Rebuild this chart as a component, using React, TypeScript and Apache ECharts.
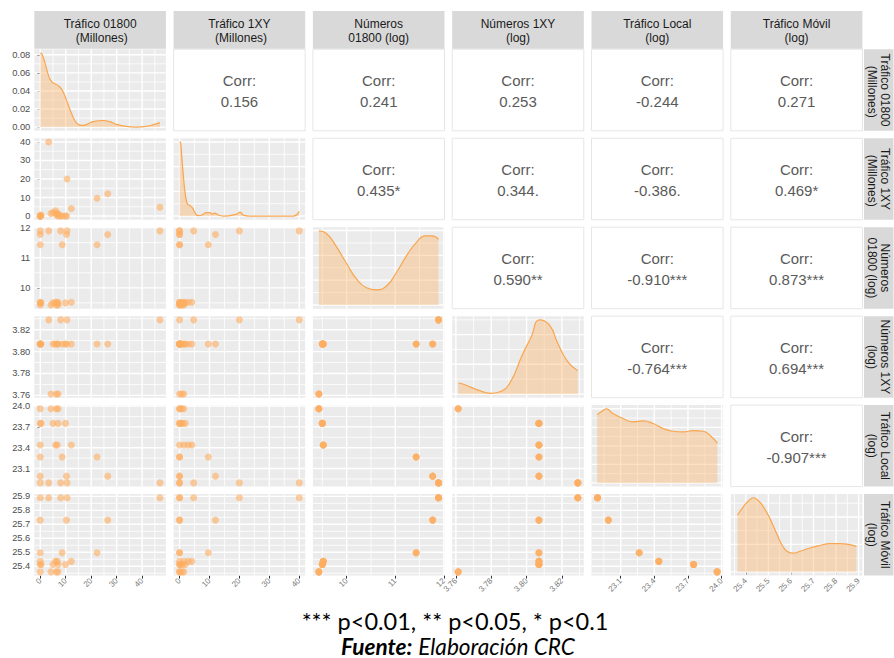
import React, { useEffect, useRef } from "react";
import * as echarts from "echarts";

// ---------- labels ----------
const VAR_LABELS = [
  "Tráfico 01800\n (Millones)",
  "Tráfico 1XY\n (Millones)",
  "Números\n01800 (log)",
  "Números 1XY\n(log)",
  "Tráfico Local\n(log)",
  "Tráfico Móvil\n(log)",
];

// ---------- yearly variables (one value per period) ----------
const YEAR_NUM_01800 = [9.43, 9.5, 9.52, 11.43, 11.77, 11.89];
const YEAR_NUM_1XY = [3.7613, 3.807, 3.807, 3.807, 3.807, 3.829];
const YEAR_TRAF_LOCAL = [23.96, 23.75, 23.44, 23.265, 22.99, 22.893];
const YEAR_TRAF_MOVIL = [25.36, 25.413, 25.435, 25.497, 25.73, 25.89];

// ---------- observations ----------
const OBS_YEAR = [0, 0, 0, 0, 1, 1, 1, 1, 1, 2, 2, 2, 2, 3, 3, 3, 4, 4, 4, 5, 5, 5, 5, 5];
const OBS_TRAF_01800 = [0, 4.2, 6.3, 7.0, 0, 0.3, 5.0, 7.0, 9.9, 0, 6.0, 6.7, 12.2, 0, 8.6, 22.3, 0, 10.3, 26.5, 0, 3.3, 8.0, 10.5, 47.0];
const OBS_TRAF_1XY = [0, 1.4, 0.7, 0, 0, 0.5, 1.9, 1.0, 0, 0, 2.9, 1.5, 4.1, 0, 0, 9.6, 0, 0, 12.0, 0, 40, 0, 20, 4.7];
const OBS_NUM_1XY_MISSING = [0, 19];

// ---------- correlations (upper triangle, row by row) ----------
const CORR_ROW_1 = ["0.156", "0.241", "0.253", "-0.244", "0.271"];
const CORR_ROW_2 = ["0.435*", "0.344.", "-0.386.", "0.469*"];
const CORR_ROW_3 = ["0.590**", "-0.910***", "0.873***"];
const CORR_ROW_4 = ["-0.764***", "0.694***"];
const CORR_ROW_5 = ["-0.907***"];
const CORR_ROWS = [CORR_ROW_1, CORR_ROW_2, CORR_ROW_3, CORR_ROW_4, CORR_ROW_5];

// ---------- density curves (diagonal) ----------
const DENS_X_TRAF_01800 = [0, 0.65, 1.95, 3.25, 4.5, 6.5, 8.4, 10.4, 12.3, 14.3, 16.2, 18.2, 20.8, 24.7, 27.3, 29.9, 33.8, 37.7, 41.6, 44.8, 47.0];
const DENS_Y_TRAF_01800 = [0.082, 0.081, 0.07, 0.057, 0.05, 0.047, 0.042, 0.029, 0.015, 0.0044, 0.0018, 0.003, 0.006, 0.0073, 0.006, 0.003, 0.0007, 0.0, 0.0007, 0.003, 0.005];
const DENS_X_TRAF_1XY = [0, 0.33, 1.0, 1.8, 2.6, 3.5, 4.3, 5.1, 6.2, 7.4, 9.0, 10.1, 11.0, 11.8, 12.9, 14.6, 19.1, 20.2, 21.3, 23.5, 31.3, 38.0, 40.0];
const DENS_Y_TRAF_1XY = [0.3, 0.297, 0.201, 0.099, 0.05, 0.042, 0.033, 0.015, 0.0015, 0.004, 0.014, 0.014, 0.008, 0.012, 0.004, 0.0, 0.008, 0.016, 0.004, 0.0, 0.0, 0.0, 0.019];
const DENS_X_NUM_01800 = [9.43, 9.58, 9.79, 10.0, 10.2, 10.41, 10.62, 10.83, 11.03, 11.24, 11.45, 11.62, 11.76, 11.89];
const DENS_Y_NUM_01800 = [0.597, 0.578, 0.47, 0.334, 0.212, 0.139, 0.122, 0.157, 0.266, 0.402, 0.511, 0.557, 0.557, 0.529];
const DENS_X_NUM_1XY = [3.7613, 3.7647, 3.7723, 3.7799, 3.7856, 3.7913, 3.797, 3.8026, 3.8073, 3.813, 3.8177, 3.8234, 3.829];
const DENS_Y_NUM_1XY = [3.7, 3.2, 1.35, 0.22, 0.9, 4.5, 12.4, 19.2, 25.0, 23.2, 17.0, 10.8, 7.8];
const DENS_X_TRAF_LOCAL = [22.891, 22.927, 22.972, 23.031, 23.121, 23.21, 23.3, 23.39, 23.479, 23.568, 23.658, 23.747, 23.837, 23.912, 23.962];
const DENS_Y_TRAF_LOCAL = [0.923, 0.96, 1.0, 0.937, 0.869, 0.824, 0.837, 0.801, 0.733, 0.697, 0.688, 0.706, 0.697, 0.62, 0.538];
const DENS_X_TRAF_MOVIL = [25.363, 25.389, 25.411, 25.434, 25.456, 25.478, 25.507, 25.537, 25.566, 25.588, 25.61, 25.64, 25.684, 25.728, 25.772, 25.816, 25.86, 25.89];
const DENS_Y_TRAF_MOVIL = [2.07, 2.37, 2.58, 2.7, 2.59, 2.37, 1.94, 1.39, 0.9, 0.72, 0.68, 0.75, 0.87, 0.96, 1.03, 1.03, 0.99, 0.93];

const DENS_X = [DENS_X_TRAF_01800, DENS_X_TRAF_1XY, DENS_X_NUM_01800, DENS_X_NUM_1XY, DENS_X_TRAF_LOCAL, DENS_X_TRAF_MOVIL];
const DENS_Y = [DENS_Y_TRAF_01800, DENS_Y_TRAF_1XY, DENS_Y_NUM_01800, DENS_Y_NUM_1XY, DENS_Y_TRAF_LOCAL, DENS_Y_TRAF_MOVIL];

// ---------- axis breaks ----------
const VAR_MAJOR = [
  [0, 10, 20, 30, 40],
  [0, 10, 20, 30, 40],
  [10, 11, 12],
  [3.76, 3.78, 3.8, 3.82],
  [23.1, 23.4, 23.7, 24.0],
  [25.4, 25.5, 25.6, 25.7, 25.8, 25.9],
];
const VAR_MINOR = [
  [5, 15, 25, 35, 45],
  [5, 15, 25, 35],
  [9.5, 10.5, 11.5],
  [3.77, 3.79, 3.81, 3.83],
  [22.95, 23.25, 23.55, 23.85],
  [25.35, 25.45, 25.55, 25.65, 25.75, 25.85],
];
const VAR_DECIMALS = [0, 0, 0, 2, 1, 1];
const DENS_MAJOR = [[0, 0.02, 0.04, 0.06, 0.08], [0, 0.1, 0.2, 0.3], [0, 0.2, 0.4, 0.6], [0, 10, 20], [0, 0.25, 0.5, 0.75, 1], [0, 1, 2]];
const DENS_MINOR = [[0.01, 0.03, 0.05, 0.07], [0.05, 0.15, 0.25], [0.1, 0.3, 0.5], [5, 15, 25], [0.125, 0.375, 0.625, 0.875], [0.5, 1.5, 2.5]];

// ---------- layout ----------
const COL_X = 34.3;
const COL_STEP = 139.3;
const PANEL_W = 131.6;
const ROW_Y = 49.3;
const ROW_STEP = 88.95;
const PANEL_H = 81.5;
const STRIP_TOP_Y = 11;
const STRIP_TOP_H = 37.8;
const STRIP_RIGHT_X = 864;
const STRIP_RIGHT_W = 29.5;

const ORANGE = "#FDAE61";
const ORANGE_LINE = "#F8A64F";

function varValues(v: number): (number | null)[] {
  return OBS_YEAR.map((y, n) => {
    if (v === 0) return OBS_TRAF_01800[n];
    if (v === 1) return OBS_TRAF_1XY[n];
    if (v === 2) return YEAR_NUM_01800[y];
    if (v === 3) return OBS_NUM_1XY_MISSING.includes(n) ? null : YEAR_NUM_1XY[y];
    if (v === 4) return YEAR_TRAF_LOCAL[y];
    return YEAR_TRAF_MOVIL[y];
  });
}

function expandRange(vals: number[]): [number, number] {
  const lo = Math.min(...vals);
  const hi = Math.max(...vals);
  const pad = (hi - lo) * 0.05;
  return [lo - pad, hi + pad];
}

function buildOption() {
  const VALUES = [0, 1, 2, 3, 4, 5].map(varValues);
  const RANGES = VALUES.map((vs) => expandRange(vs.filter((v) => v !== null) as number[]));
  const DENS_RANGES = DENS_Y.map((ds) => {
    const peak = Math.max(...ds);
    return [-0.05 * peak, 1.05 * peak] as [number, number];
  });

  const grids: any[] = [];
  const xAxes: any[] = [];
  const yAxes: any[] = [];
  const series: any[] = [];
  const graphics: any[] = [];

  const inRange = (v: number, r: [number, number]) => v > r[0] && v < r[1];

  const vLines = (k: number, xs: number[], yRef: number, lw: number) => ({
    type: "custom",
    xAxisIndex: k,
    yAxisIndex: k,
    silent: true,
    z: 5,
    data: xs.map((v) => [v, yRef]),
    encode: { x: 0, y: 1 },
    renderItem: (params: any, api: any) => {
      const p = api.coord([api.value(0), api.value(1)]);
      const cs = params.coordSys;
      return {
        type: "line",
        shape: { x1: p[0], y1: cs.y, x2: p[0], y2: cs.y + cs.height },
        style: { stroke: "#ffffff", lineWidth: lw, opacity: 1 },
      };
    },
  });
  const hLines = (k: number, ys: number[], xRef: number, lw: number) => ({
    type: "custom",
    xAxisIndex: k,
    yAxisIndex: k,
    silent: true,
    z: 5,
    data: ys.map((v) => [xRef, v]),
    encode: { x: 0, y: 1 },
    renderItem: (params: any, api: any) => {
      const p = api.coord([api.value(0), api.value(1)]);
      const cs = params.coordSys;
      return {
        type: "line",
        shape: { x1: cs.x, y1: p[1], x2: cs.x + cs.width, y2: p[1] },
        style: { stroke: "#ffffff", lineWidth: lw, opacity: 1 },
      };
    },
  });

  for (let i = 0; i < 6; i++) {
    for (let j = 0; j < 6; j++) {
      const k = i * 6 + j;
      const left = COL_X + j * COL_STEP;
      const top = ROW_Y + i * ROW_STEP;
      const isCorr = i < j;
      grids.push({
        left,
        top,
        width: PANEL_W,
        height: PANEL_H,
        show: true,
        z: 0,
        backgroundColor: isCorr ? "#ffffff" : "#EBEBEB",
        borderColor: isCorr ? "#E6E6E6" : "transparent",
        borderWidth: isCorr ? 1 : 0,
      });
      const xr: [number, number] = isCorr ? [0, 1] : RANGES[j];
      const yr: [number, number] = isCorr ? [0, 1] : i === j ? DENS_RANGES[j] : RANGES[i];
      const isBottom = i === 5;
      const isLeft = j === 0;
      const xMaj = VAR_MAJOR[j];
      const yMaj = i === 0 && j === 0 ? DENS_MAJOR[0] : VAR_MAJOR[i];
      const yDec = i === 0 && j === 0 ? 2 : VAR_DECIMALS[i];
      xAxes.push({
        type: "value",
        gridIndex: k,
        min: xr[0],
        max: xr[1],
        axisLine: { show: false },
        splitLine: { show: false },
        axisTick: {
          show: isBottom,
          length: 3,
          lineStyle: { color: "#333333", width: 1 },
          customValues: xMaj,
        },
        axisLabel: {
          show: isBottom,
          customValues: xMaj,
          rotate: 45,
          fontSize: 8,
          color: "#7A7A7A",
          margin: 4,
          fontFamily: "Liberation Sans",
          formatter: (v: number) => Number(v).toFixed(VAR_DECIMALS[j]),
        },
      });
      yAxes.push({
        type: "value",
        gridIndex: k,
        min: yr[0],
        max: yr[1],
        axisLine: { show: false },
        splitLine: { show: false },
        axisTick: {
          show: isLeft,
          length: 3,
          lineStyle: { color: "#333333", width: 1 },
          customValues: yMaj,
        },
        axisLabel: {
          show: isLeft,
          customValues: yMaj,
          fontSize: 9.3,
          color: "#4D4D4D",
          margin: 4,
          fontFamily: "Liberation Sans",
          formatter: (v: number) => Number(v).toFixed(yDec),
        },
      });

      if (isCorr) {
        const txt = "Corr:\n" + CORR_ROWS[i][j - i - 1];
        graphics.push({
          type: "text",
          x: left + PANEL_W / 2,
          y: top + PANEL_H / 2 + 1,
          silent: true,
          style: {
            text: txt,
            fill: "#5A5A5A",
            fontSize: 15,
            fontFamily: "Liberation Sans",
            lineHeight: 21.5,
            align: "center",
            verticalAlign: "middle",
          },
        });
        continue;
      }

      // grid lines
      const xMinor = VAR_MINOR[j].filter((v) => inRange(v, xr));
      const xMajor = VAR_MAJOR[j].filter((v) => inRange(v, xr));
      const yMinorList = (i === j ? DENS_MINOR[j] : VAR_MINOR[i]).filter((v) => inRange(v, yr));
      const yMajorList = (i === j ? DENS_MAJOR[j] : VAR_MAJOR[i]).filter((v) => inRange(v, yr));
      const yRef = (yr[0] + yr[1]) / 2;
      const xRef = (xr[0] + xr[1]) / 2;
      series.push(hLines(k, yMinorList, xRef, 0.8));
      series.push(vLines(k, xMinor, yRef, 0.8));
      series.push(hLines(k, yMajorList, xRef, 1.4));
      series.push(vLines(k, xMajor, yRef, 1.4));

      if (i === j) {
        series.push({
          type: "line",
          xAxisIndex: k,
          yAxisIndex: k,
          z: 8,
          silent: true,
          smooth: 0.5,
          showSymbol: false,
          symbol: "none",
          data: DENS_X[j].map((x, n) => [x, DENS_Y[j][n]]),
          lineStyle: { color: ORANGE_LINE, width: 1.2 },
          areaStyle: { color: "rgba(253,174,97,0.55)", origin: "auto" },
        });
      } else {
        const xs = VALUES[j];
        const ys = VALUES[i];
        const pts: number[][] = [];
        xs.forEach((xv, n) => {
          const yv = ys[n];
          if (xv !== null && yv !== null) pts.push([xv, yv]);
        });
        series.push({
          type: "scatter",
          xAxisIndex: k,
          yAxisIndex: k,
          z: 8,
          silent: true,
          symbolSize: 7,
          data: pts,
          itemStyle: { color: ORANGE, opacity: 0.6 },
        });
      }
    }
  }

  // strips
  for (let j = 0; j < 6; j++) {
    const left = COL_X + j * COL_STEP;
    graphics.push({
      type: "rect",
      silent: true,
      shape: { x: left, y: STRIP_TOP_Y, width: PANEL_W, height: STRIP_TOP_H },
      style: { fill: "#D9D9D9" },
    });
    graphics.push({
      type: "text",
      silent: true,
      x: left + PANEL_W / 2,
      y: STRIP_TOP_Y + STRIP_TOP_H / 2 + 1,
      style: {
        text: VAR_LABELS[j],
        fill: "#1A1A1A",
        fontSize: 12,
        fontFamily: "Liberation Sans",
        lineHeight: 13.5,
        align: "center",
        verticalAlign: "middle",
      },
    });
  }
  for (let i = 0; i < 6; i++) {
    const top = ROW_Y + i * ROW_STEP;
    graphics.push({
      type: "rect",
      silent: true,
      shape: { x: STRIP_RIGHT_X, y: top, width: STRIP_RIGHT_W, height: PANEL_H },
      style: { fill: "#D9D9D9" },
    });
    graphics.push({
      type: "text",
      silent: true,
      x: STRIP_RIGHT_X + STRIP_RIGHT_W / 2 - 0.5,
      y: top + PANEL_H / 2,
      rotation: -Math.PI / 2,
      style: {
        text: VAR_LABELS[i],
        fill: "#1A1A1A",
        fontSize: 12,
        fontFamily: "Liberation Sans",
        lineHeight: 13.5,
        align: "center",
        verticalAlign: "middle",
      },
    });
  }

  // caption
  graphics.push({
    type: "text",
    silent: true,
    x: 455,
    y: 621,
    style: {
      text: "*** p<0.01, ** p<0.05, * p<0.1",
      fill: "#000000",
      fontSize: 23.5,
      fontFamily: "Lato",
      align: "center",
      verticalAlign: "middle",
    },
  });
  graphics.push({
    type: "text",
    silent: true,
    x: 458,
    y: 646,
    style: {
      text: "{b|Fuente:} {i|Elaboración CRC}",
      fill: "#000000",
      fontSize: 22.6,
      fontFamily: "Lato",
      align: "center",
      verticalAlign: "middle",
      rich: {
        b: { fontWeight: "bold", fontStyle: "italic", fontSize: 22.6, fontFamily: "Lato", fill: "#000000" },
        i: { fontStyle: "italic", fontSize: 22.6, fontFamily: "Lato", fill: "#000000" },
      },
    },
  });

  return {
    animation: false,
    backgroundColor: "#ffffff",
    grid: grids,
    xAxis: xAxes,
    yAxis: yAxes,
    series,
    graphic: { elements: graphics },
  };
}

export default function App() {
  const ref = useRef<HTMLDivElement>(null);
  useEffect(() => {
    if (!ref.current) return;
    const chart = echarts.init(ref.current, null, { renderer: "svg" });
    chart.setOption(buildOption() as any);
    return () => chart.dispose();
  }, []);
  return (
    <div
      ref={ref}
      style={{ position: "absolute", left: 0, top: 0, width: 894, height: 658, background: "#ffffff" }}
    />
  );
}
